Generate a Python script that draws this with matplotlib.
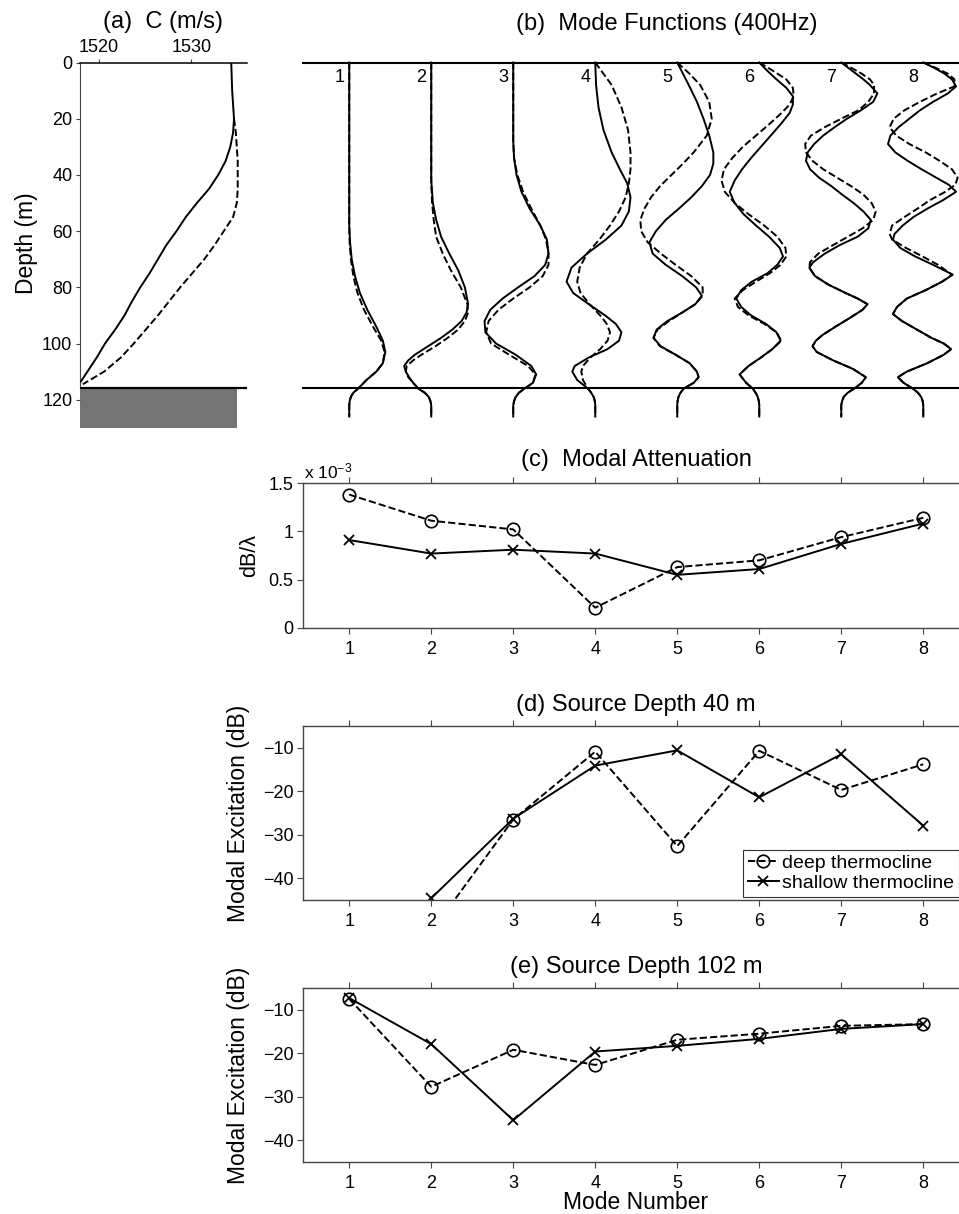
import numpy as np
import matplotlib.pyplot as plt

plt.rcParams['font.family'] = ['Liberation Sans', 'DejaVu Sans']
plt.rcParams['mathtext.fontset'] = 'custom'
plt.rcParams['mathtext.rm'] = 'Liberation Sans'
plt.rcParams['mathtext.it'] = 'Liberation Sans:italic'

# ---------------------------------------------------------------------------
# (a) sound-speed profiles
# ---------------------------------------------------------------------------
z_shallow = [0, 10, 20, 25, 30, 35, 40, 45, 50, 55, 60, 65, 70, 75, 80, 85,
             90, 95, 100, 105, 110, 113.5]
c_shallow = [1534.3, 1534.4, 1534.6, 1534.5, 1534.2, 1533.7, 1532.9, 1531.9,
             1530.6, 1529.4, 1528.4, 1527.3, 1526.4, 1525.5, 1524.5, 1523.6,
             1522.8, 1521.8, 1520.7, 1519.8, 1518.8, 1518.1]
z_deep = [20, 25, 30, 35, 40, 45, 50, 55, 60, 65, 70, 75, 80, 85, 90, 95,
          100, 105, 110, 114.5]
c_deep = [1534.6, 1534.8, 1534.9, 1535.0, 1535.0, 1535.0, 1534.9, 1534.5,
          1533.5, 1532.5, 1531.4, 1530.1, 1528.8, 1527.6, 1526.4, 1525.1,
          1523.8, 1522.4, 1520.6, 1518.3]
seafloor_depth = 116
sediment_bottom = 130

# ---------------------------------------------------------------------------
# (b) mode functions: depth (m) and normalised amplitude for each mode
# ---------------------------------------------------------------------------
m1_depth = [0, 58, 64, 70, 76, 82, 88, 94, 99, 103, 107, 110, 113, 116,
            117.5, 119, 120.5, 122, 126]
m1_shallow = [0, 0, 0.01, 0.03, 0.07, 0.13, 0.22, 0.33, 0.41, 0.44, 0.41,
              0.33, 0.21, 0.11, 0.05, 0.02, 0.005, 0, 0]
m1_deep = [0, 0, 0.005, 0.02, 0.05, 0.1, 0.18, 0.29, 0.39, 0.43, 0.41, 0.33,
           0.21, 0.11, 0.05, 0.02, 0.005, 0, 0]

m2_depth = [0, 42, 50, 56, 62, 68, 74, 80, 86, 89, 92, 95, 98, 101, 104, 106,
            108, 110, 112, 114, 116, 117.5, 119, 120.5, 122, 126]
m2_shallow = [0, 0, 0.02, 0.06, 0.12, 0.22, 0.33, 0.41, 0.45, 0.43, 0.37,
              0.26, 0.12, -0.04, -0.2, -0.28, -0.33, -0.31, -0.27, -0.22,
              -0.16, -0.08, -0.03, -0.01, 0, 0]
m2_deep = [0, 0, 0.01, 0.03, 0.06, 0.14, 0.24, 0.36, 0.44, 0.45, 0.41, 0.33,
           0.2, 0.05, -0.12, -0.22, -0.3, -0.31, -0.28, -0.22, -0.16, -0.08,
           -0.03, -0.01, 0, 0]

m3_depth = [0, 28, 34, 40, 46, 52, 58, 63, 68, 72, 76, 80, 84, 88, 92, 96,
            100, 104, 108, 111, 114, 116, 117.5, 119, 120.5, 122, 126]
m3_shallow = [0, 0, 0.01, 0.04, 0.1, 0.2, 0.33, 0.41, 0.43, 0.39, 0.26, 0.06,
              -0.13, -0.28, -0.35, -0.34, -0.21, 0.03, 0.22, 0.28, 0.24, 0.14,
              0.07, 0.03, 0.01, 0, 0]
m3_deep = [0, 0, 0.01, 0.05, 0.12, 0.22, 0.33, 0.4, 0.43, 0.43, 0.36, 0.2,
           0.0, -0.18, -0.3, -0.33, -0.27, -0.05, 0.18, 0.27, 0.24, 0.14,
           0.07, 0.03, 0.01, 0, 0]

m4_depth = [0, 8, 16, 24, 32, 38, 43, 48, 53, 58, 63, 68, 73, 78, 82, 86, 90,
            93, 96, 99, 102, 105, 108, 110, 113, 116, 117.5, 119, 120.5, 122,
            126]
m4_shallow = [0, 0.01, 0.04, 0.1, 0.2, 0.3, 0.39, 0.43, 0.41, 0.32, 0.13,
              -0.1, -0.29, -0.35, -0.27, -0.08, 0.12, 0.25, 0.32, 0.29, 0.15,
              -0.08, -0.25, -0.28, -0.22, -0.09, -0.05, -0.02, -0.005, 0, 0]
m4_deep = [0, 0.2, 0.32, 0.4, 0.43, 0.43, 0.41, 0.37, 0.29, 0.18, 0.05, -0.1,
           -0.19, -0.22, -0.18, -0.07, 0.06, 0.14, 0.18, 0.15, 0.06, -0.06,
           -0.15, -0.17, -0.15, -0.09, -0.05, -0.02, -0.005, 0, 0]

m5_depth = [0, 4, 8, 14, 20, 26, 32, 36, 40, 44, 48, 52, 56, 60, 64, 68, 72,
            76, 80, 83, 86, 89, 92, 95, 98, 101, 104, 107, 110, 112, 114, 116,
            117.5, 119, 120.5, 122, 126]
m5_shallow = [0, 0.07, 0.14, 0.24, 0.32, 0.39, 0.44, 0.44, 0.4, 0.3, 0.17,
              0.02, -0.14, -0.26, -0.34, -0.3, -0.14, 0.06, 0.23, 0.3, 0.22,
              0.06, -0.12, -0.25, -0.29, -0.2, -0.02, 0.15, 0.24, 0.26, 0.2,
              0.08, 0.04, 0.015, 0.004, 0, 0]
m5_deep = [0, 0.15, 0.28, 0.39, 0.42, 0.36, 0.2, 0.07, -0.07, -0.21, -0.32,
           -0.4, -0.45, -0.44, -0.36, -0.2, -0.02, 0.17, 0.31, 0.31, 0.22,
           0.06, -0.1, -0.24, -0.29, -0.21, -0.02, 0.15, 0.24, 0.26, 0.2,
           0.08, 0.04, 0.015, 0.004, 0, 0]

m6_depth = [0, 3, 6, 9, 12, 15, 18, 22, 26, 30, 34, 38, 42, 46, 50, 54, 58,
            62, 66, 69, 72, 75, 78, 81, 84, 87, 90, 93, 96, 99, 102, 105, 108,
            111, 114, 116, 117.5, 119, 120.5, 122, 126]
m6_shallow = [0, 0.1, 0.21, 0.33, 0.41, 0.41, 0.37, 0.26, 0.14, 0.02, -0.1,
              -0.21, -0.3, -0.36, -0.3, -0.19, -0.04, 0.12, 0.25, 0.29, 0.22,
              0.1, -0.09, -0.22, -0.28, -0.22, -0.1, 0.08, 0.21, 0.26, 0.16,
              0.02, -0.13, -0.24, -0.16, -0.08, -0.045, -0.018, -0.005, 0, 0]
m6_deep = [0, 0.17, 0.33, 0.41, 0.42, 0.37, 0.27, 0.12, -0.04, -0.2, -0.33,
           -0.43, -0.46, -0.42, -0.3, -0.13, 0.06, 0.22, 0.32, 0.33, 0.26,
           0.13, -0.04, -0.2, -0.3, -0.26, -0.13, 0.06, 0.21, 0.27, 0.16,
           0.02, -0.13, -0.24, -0.16, -0.08, -0.045, -0.018, -0.005, 0, 0]

m7_depth = [0, 2, 4, 6, 8, 11, 14, 17, 20, 23, 26, 29, 32, 35, 38, 41, 44, 47,
            50, 53, 56, 59, 62, 65, 68, 71, 73, 76, 79, 82, 84, 86, 88, 91, 94,
            97, 99, 101, 103, 106, 109, 112, 114, 116, 117.5, 119, 120.5, 122,
            126]
m7_shallow = [0, 0.09, 0.18, 0.27, 0.35, 0.44, 0.39, 0.24, 0.07, -0.08,
              -0.22, -0.33, -0.41, -0.43, -0.38, -0.27, -0.12, 0.01, 0.15,
              0.27, 0.36, 0.33, 0.2, -0.02, -0.2, -0.34, -0.39, -0.32, -0.16,
              0.05, 0.2, 0.32, 0.26, 0.1, -0.07, -0.23, -0.31, -0.35, -0.3,
              -0.1, 0.14, 0.3, 0.25, 0.16, 0.08, 0.03, 0.01, 0, 0]
m7_deep = [0, 0.13, 0.25, 0.35, 0.4, 0.4, 0.33, 0.21, 0.0, -0.2, -0.37,
           -0.44, -0.43, -0.35, -0.22, -0.05, 0.12, 0.27, 0.37, 0.42, 0.39,
           0.26, 0.08, -0.1, -0.28, -0.38, -0.39, -0.32, -0.16, 0.05, 0.2,
           0.32, 0.26, 0.1, -0.07, -0.23, -0.31, -0.35, -0.3, -0.1, 0.14, 0.3,
           0.25, 0.16, 0.08, 0.03, 0.01, 0, 0]

m8_depth = [0, 2, 4, 6, 8.5, 11, 14, 17, 20, 23, 26, 29, 32, 35, 38, 41, 43.5,
            46, 49, 52, 55, 58, 61, 63, 66, 69, 72, 75.5, 78, 81, 84, 87, 89.5,
            92, 95, 98, 100, 102, 104, 107, 110, 112, 114, 116, 117.5, 119,
            120.5, 122, 126]
m8_shallow = [0, 0.14, 0.26, 0.35, 0.4, 0.3, 0.12, -0.04, -0.17, -0.3, -0.4,
              -0.43, -0.34, -0.19, -0.02, 0.16, 0.31, 0.4, 0.24, 0.05, -0.12,
              -0.25, -0.35, -0.37, -0.28, -0.1, 0.12, 0.36, 0.23, 0.03, -0.2,
              -0.32, -0.37, -0.26, -0.08, 0.1, 0.25, 0.34, 0.25, 0.05, -0.2,
              -0.31, -0.24, -0.13, -0.065, -0.026, -0.007, 0, 0]
m8_deep = [0, 0.16, 0.3, 0.38, 0.38, 0.17, -0.04, -0.23, -0.36, -0.41, -0.33,
           -0.17, 0.03, 0.2, 0.35, 0.42, 0.39, 0.27, 0.08, -0.07, -0.23,
           -0.38, -0.41, -0.38, -0.21, -0.01, 0.18, 0.35, 0.23, 0.03, -0.2,
           -0.32, -0.37, -0.26, -0.08, 0.1, 0.25, 0.34, 0.25, 0.05, -0.2,
           -0.31, -0.24, -0.13, -0.065, -0.026, -0.007, 0, 0]

mode_depths = [m1_depth, m2_depth, m3_depth, m4_depth,
               m5_depth, m6_depth, m7_depth, m8_depth]
mode_shallow = [m1_shallow, m2_shallow, m3_shallow, m4_shallow,
                m5_shallow, m6_shallow, m7_shallow, m8_shallow]
mode_deep = [m1_deep, m2_deep, m3_deep, m4_deep,
             m5_deep, m6_deep, m7_deep, m8_deep]

# ---------------------------------------------------------------------------
# (c)-(e) per-mode quantities
# ---------------------------------------------------------------------------
modes = [1, 2, 3, 4, 5, 6, 7, 8]
atten_deep = [1.38e-3, 1.11e-3, 1.02e-3, 0.21e-3, 0.63e-3, 0.70e-3, 0.94e-3, 1.14e-3]
atten_shallow = [0.91e-3, 0.77e-3, 0.81e-3, 0.77e-3, 0.55e-3, 0.61e-3, 0.87e-3, 1.08e-3]
exc40_deep = [np.nan, -52.3, -26.5, -10.9, -32.6, -10.7, -19.7, -13.8]
exc40_shallow = [np.nan, -44.6, -26.3, -14.1, -10.6, -21.4, -11.5, -27.9]
exc102_deep = [-7.5, -27.7, -19.2, -22.7, -16.9, -15.5, -13.7, -13.3]
exc102_shallow = [-7.3, -17.9, -35.4, -19.6, -18.3, -16.7, -14.4, -13.3]

legend_labels = ['deep thermocline', 'shallow thermocline']

# ---------------------------------------------------------------------------
# figure
# ---------------------------------------------------------------------------
W, H = 959, 1214
fig = plt.figure(figsize=(W / 100, H / 100), dpi=100)
fig.patch.set_facecolor('white')

TICK_FS = 13
TITLE_FS = 17
LABEL_FS = 16.5
SPINE_COLOR = '#454545'
LW = 1.4


def place(left, top, right, bottom):
    """Add axes given pixel edges measured from the top-left corner."""
    return fig.add_axes([left / W, 1 - bottom / H, (right - left) / W,
                         (bottom - top) / H])


def ftext(x, y, s, **kw):
    fig.text(x / W, 1 - y / H, s, **kw)


# ---- (a) sound speed ----
ax_a = place(80, 62.5, 247, 427.8)
ax_a.axhspan(seafloor_depth, sediment_bottom, xmin=0, xmax=0.94,
             color='#747474', lw=0, zorder=1)
ax_a.plot(c_shallow, z_shallow, color='k', lw=LW, zorder=3)
ax_a.plot(c_deep, z_deep, color='k', lw=LW, ls='--', zorder=2)
ax_a.axhline(seafloor_depth, color='k', lw=1.6, zorder=4)
ax_a.set_xlim(1518, 1536)
ax_a.set_ylim(sediment_bottom, 0)
ax_a.xaxis.tick_top()
ax_a.set_xticks([1520, 1530])
ax_a.set_yticks(np.arange(0, 121, 20))
for side in ('right', 'bottom'):
    ax_a.spines[side].set_visible(False)
ax_a.spines['top'].set_color('k')
ax_a.spines['top'].set_linewidth(1.1)
ax_a.spines['left'].set_color(SPINE_COLOR)
ax_a.spines['left'].set_linewidth(0.8)
ax_a.spines['left'].set_bounds(0, seafloor_depth)
ax_a.tick_params(axis='both', direction='out', length=3, width=0.8,
                 labelsize=TICK_FS, colors=SPINE_COLOR, labelcolor='k')
ax_a.tick_params(axis='x', pad=1.5)
ax_a.tick_params(axis='y', pad=2.5)
ax_a.patch.set_alpha(0)
ftext(163, 28, '(a)  C (m/s)', ha='center', va='baseline', fontsize=TITLE_FS)
ftext(27, 243, 'Depth (m)', ha='center', va='center', rotation=90,
      fontsize=LABEL_FS)

# ---- (b) mode functions ----
ax_b = place(302.5, 62.5, 970, 427.8)
ax_b.set_xlim(0.43, 8.57)
ax_b.set_ylim(sediment_bottom, 0)
ax_b.axis('off')
ax_b.axhline(0, color='k', lw=1.5, clip_on=False)
ax_b.axhline(seafloor_depth, color='k', lw=1.5, clip_on=False)
for n, z, ps, pd in zip(modes, mode_depths, mode_shallow, mode_deep):
    ax_b.plot(n + np.asarray(pd), z, color='k', lw=LW, ls='--', clip_on=False)
    ax_b.plot(n + np.asarray(ps), z, color='k', lw=LW, clip_on=False)
    ax_b.text(n - 0.12, 5.3, str(n), ha='center', va='center',
              fontsize=TICK_FS)
ftext(667, 30, '(b)  Mode Functions (400Hz)', ha='center', va='baseline',
      fontsize=TITLE_FS)


def style_mode_axes(ax):
    ax.set_xlim(0.43, 8.57)
    ax.set_xticks(modes)
    for sp in ax.spines.values():
        sp.set_color(SPINE_COLOR)
        sp.set_linewidth(1.0)
    ax.tick_params(axis='both', direction='out', length=4, width=0.8,
                   top=True, right=True, labelsize=TICK_FS,
                   colors=SPINE_COLOR, labelcolor='k')
    ax.tick_params(axis='x', pad=5)
    ax.tick_params(axis='y', pad=2.5)


def draw_pair(ax, deep, shallow):
    ax.plot(modes, deep, color='k', lw=LW, ls='--', marker='o', ms=9,
            mfc='none', mec='k', mew=1.2, label=legend_labels[0])
    ax.plot(modes, shallow, color='k', lw=LW, ls='-', marker='x', ms=7.5,
            mec='k', mew=1.3, label=legend_labels[1])


# ---- (c) modal attenuation ----
ax_c = place(302.5, 483, 970, 628)
draw_pair(ax_c, np.asarray(atten_deep) * 1e3, np.asarray(atten_shallow) * 1e3)
ax_c.set_ylim(0, 1.5)
ax_c.set_yticks([0, 0.5, 1, 1.5])
ax_c.set_yticklabels(['0', '0.5', '1', '1.5'])
style_mode_axes(ax_c)
ftext(304, 478, r'x 10$^{-3}$', ha='left', va='baseline', fontsize=12.5)
ftext(636, 466, '(c)  Modal Attenuation', ha='center', va='baseline',
      fontsize=TITLE_FS)
ftext(250, 556, 'dB/\u03bb', ha='center', va='center', rotation=90,
      fontsize=LABEL_FS - 1)

# ---- (d) source depth 40 m ----
ax_d = place(302.5, 726, 970, 900)
draw_pair(ax_d, exc40_deep, exc40_shallow)
ax_d.set_ylim(-45, -5)
ax_d.set_yticks([-40, -30, -20, -10])
ax_d.set_yticklabels(['\u221240', '\u221230', '\u221220', '\u221210'])
style_mode_axes(ax_d)
ftext(636, 711, '(d) Source Depth 40 m', ha='center', va='baseline',
      fontsize=TITLE_FS)
ftext(239, 813, 'Modal Excitation (dB)', ha='center', va='center',
      rotation=90, fontsize=LABEL_FS)
leg = ax_d.legend(loc='lower left', bbox_to_anchor=(0.66, 0.02),
                  fontsize=14, frameon=True, fancybox=False,
                  handlelength=1.6, handletextpad=0.15, borderpad=0.25,
                  labelspacing=0.1, borderaxespad=0)
leg.get_frame().set_edgecolor('k')
leg.get_frame().set_linewidth(0.8)

# ---- (e) source depth 102 m ----
ax_e = place(302.5, 988, 970, 1162)
draw_pair(ax_e, exc102_deep, exc102_shallow)
ax_e.set_ylim(-45, -5)
ax_e.set_yticks([-40, -30, -20, -10])
ax_e.set_yticklabels(['\u221240', '\u221230', '\u221220', '\u221210'])
style_mode_axes(ax_e)
ftext(636, 973, '(e) Source Depth 102 m', ha='center', va='baseline',
      fontsize=TITLE_FS)
ftext(239, 1075, 'Modal Excitation (dB)', ha='center', va='center',
      rotation=90, fontsize=LABEL_FS)
ftext(636, 1209, 'Mode Number', ha='center', va='baseline',
      fontsize=LABEL_FS)

fig.savefig('out.png', dpi=100, facecolor='white')
